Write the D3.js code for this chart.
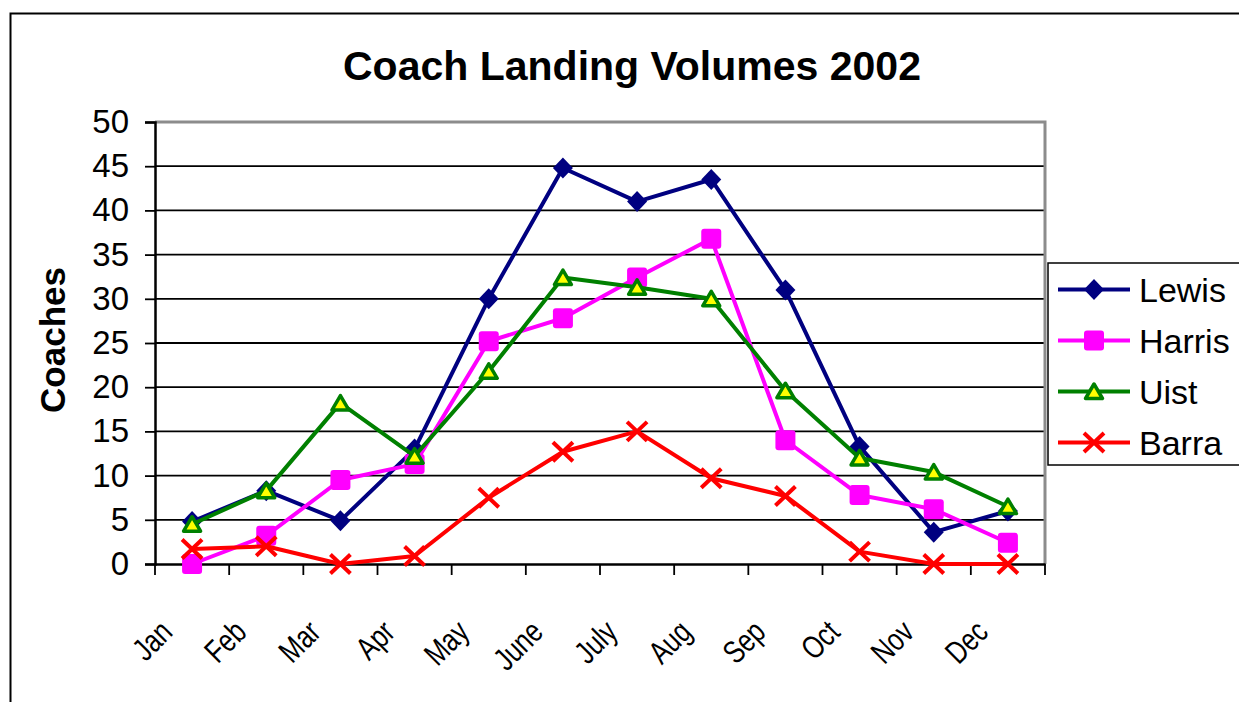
<!DOCTYPE html>
<html>
<head>
<meta charset="utf-8">
<script src="https://cdn.jsdelivr.net/npm/d3@7"></script>
<style>
  body { margin: 0; background: #fff; }
  svg { display: block; font-family: "Liberation Sans", Arial, sans-serif; }
</style>
</head>
<body>
<div id="chart"></div>
<script>
const months = ["Jan", "Feb", "Mar", "Apr", "May", "June", "July", "Aug", "Sep", "Oct", "Nov", "Dec"];
const lewis  = [4.8, 8.3, 4.9, 13.0, 30.0, 44.8, 41.0, 43.5, 31.0, 13.3, 3.6, 6.0];
const harris = [0.0, 3.2, 9.5, 11.3, 25.2, 27.8, 32.4, 36.8, 14.0, 7.8, 6.2, 2.4];
const uist   = [4.5, 8.3, 18.2, 12.2, 21.8, 32.4, 31.3, 30.0, 19.6, 12.0, 10.4, 6.5];
const barra  = [1.7, 2.0, 0.0, 0.9, 7.5, 12.7, 15.0, 9.7, 7.7, 1.4, 0.0, 0.0];
const yTicks = [0, 5, 10, 15, 20, 25, 30, 35, 40, 45, 50];

const series = [
  { name: "Lewis", values: lewis, color: "#000080", marker: "diamond" },
  { name: "Harris", values: harris, color: "#ff00ff", marker: "square" },
  { name: "Uist", values: uist, color: "#008000", marker: "triangle" },
  { name: "Barra", values: barra, color: "#ff0000", marker: "cross" }
];

const width = 1239, height = 702;
const plotLeft = 155, plotRight = 1045, plotTop = 122, plotBottom = 564;

const svg = d3.select("#chart").append("svg")
  .attr("width", width)
  .attr("height", height);

// cadre du graphique
svg.append("rect")
  .attr("x", 10.5).attr("y", 13.5)
  .attr("width", 1240).attr("height", 700)
  .attr("fill", "none").attr("stroke", "#000").attr("stroke-width", 2);

const x = d3.scaleBand().domain(months).range([plotLeft, plotRight]);
const y = d3.scaleLinear().domain([0, 50]).range([plotBottom, plotTop]);

// lignes de grille
svg.append("g")
  .selectAll("line")
  .data(yTicks.filter(d => d > 0 && d < 50))
  .join("line")
  .attr("x1", plotLeft).attr("x2", plotRight)
  .attr("y1", d => y(d)).attr("y2", d => y(d))
  .attr("stroke", "#000").attr("stroke-width", 1.8);

// bord gris de la zone de tracé
svg.append("path")
  .attr("d", `M${plotLeft},${plotTop}H${plotRight}V${plotBottom}`)
  .attr("fill", "none").attr("stroke", "#8c8c8c").attr("stroke-width", 3);

// axe Y
const yAxis = svg.append("g")
  .attr("transform", `translate(${plotLeft},0)`)
  .call(d3.axisLeft(y).tickValues(yTicks).tickSize(10).tickPadding(16));
yAxis.select(".domain").attr("stroke", "#000").attr("stroke-width", 2.5);
yAxis.selectAll(".tick line").attr("stroke", "#000").attr("stroke-width", 1.8);
yAxis.selectAll(".tick text")
  .attr("font-size", 33).attr("fill", "#000")
  .attr("font-family", "Liberation Sans, Arial, sans-serif");

// axe X
const xAxis = svg.append("g")
  .attr("transform", `translate(0,${plotBottom})`)
  .call(d3.axisBottom(x).tickSize(0).tickFormat(""));
xAxis.select(".domain").attr("stroke", "#000").attr("stroke-width", 2.5);

svg.append("g")
  .selectAll("line")
  .data(months.map(m => x(m)).concat([plotRight]))
  .join("line")
  .attr("x1", d => d).attr("x2", d => d)
  .attr("y1", plotBottom).attr("y2", plotBottom + 11)
  .attr("stroke", "#000").attr("stroke-width", 1.8);

// libellés des mois, inclinés et tassés comme dans Excel
svg.append("g")
  .selectAll("text")
  .data(months)
  .join("text")
  .attr("transform", d => `translate(${x(d) + x.bandwidth() / 2 - 18},${plotBottom + 70}) rotate(-45) scale(0.78,1)`)
  .attr("text-anchor", "end")
  .attr("font-size", 32)
  .attr("fill", "#000")
  .text(d => d);

// titre
svg.append("text")
  .attr("x", 632).attr("y", 80)
  .attr("text-anchor", "middle")
  .attr("font-size", 41).attr("font-weight", "bold")
  .text("Coach Landing Volumes 2002");

svg.append("text")
  .attr("transform", `translate(65,340) rotate(-90)`)
  .attr("text-anchor", "middle")
  .attr("font-size", 35).attr("font-weight", "bold")
  .text("Coaches");

function drawMarker(g, s) {
  if (s.marker === "diamond") {
    g.append("path").attr("d", "M0,-10.5L10,0L0,10.5L-10,0Z").attr("fill", s.color);
  } else if (s.marker === "square") {
    g.append("rect").attr("x", -10).attr("y", -10).attr("width", 20).attr("height", 20)
      .attr("rx", 3).attr("fill", s.color);
  } else if (s.marker === "triangle") {
    g.append("path").attr("d", "M0,-7.5L8.5,7L-8.5,7Z")
      .attr("fill", "#ffff00").attr("stroke", s.color).attr("stroke-width", 3.5)
      .attr("stroke-linejoin", "round");
  } else {
    g.append("path").attr("d", "M-10,-9.5L10,9.5M10,-9.5L-10,9.5")
      .attr("stroke", s.color).attr("stroke-width", 4);
  }
}

const line = d3.line()
  .x((d, i) => x(months[i]) + x.bandwidth() / 2)
  .y(d => y(d));

series.forEach(s => {
  svg.append("path")
    .datum(s.values)
    .attr("d", line)
    .attr("fill", "none")
    .attr("stroke", s.color)
    .attr("stroke-width", 4)
    .attr("stroke-linejoin", "round");
  s.values.forEach((v, i) => {
    const g = svg.append("g")
      .attr("transform", `translate(${x(months[i]) + x.bandwidth() / 2},${y(v)})`);
    drawMarker(g, s);
  });
});

// légende
const legend = svg.append("g");
legend.append("rect")
  .attr("x", 1048).attr("y", 263)
  .attr("width", 200).attr("height", 202)
  .attr("fill", "#fff").attr("stroke", "#000").attr("stroke-width", 1.5);

series.forEach((s, i) => {
  const ly = 289.5 + i * 51;
  legend.append("line")
    .attr("x1", 1058).attr("x2", 1130)
    .attr("y1", ly).attr("y2", ly)
    .attr("stroke", s.color).attr("stroke-width", 4);
  drawMarker(legend.append("g").attr("transform", `translate(1094,${ly})`), s);
  legend.append("text")
    .attr("x", 1139).attr("y", ly + 12.5)
    .attr("font-size", 34)
    .text(s.name);
});
</script>
</body>
</html>
